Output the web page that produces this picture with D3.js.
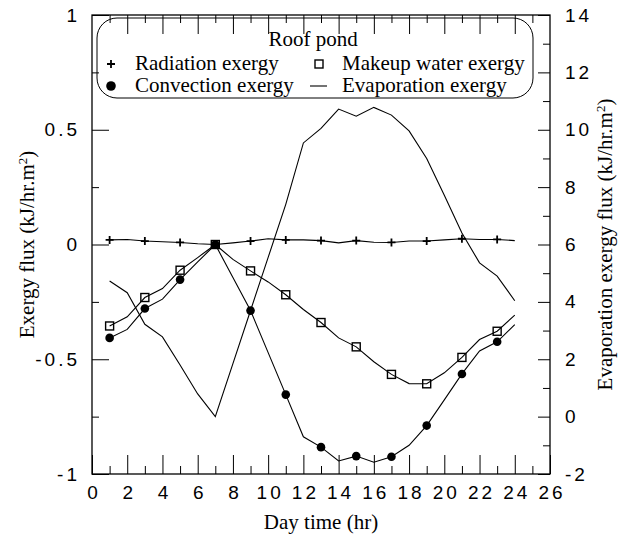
<!DOCTYPE html>
<html lang="en">
<head>
    <meta charset="UTF-8">
    <title>Roof pond exergy</title>
    <script src="https://d3js.org/d3.v7.min.js"></script>
    <style>
        body{
            margin: 0;
            background: white;
        }
        .tick text{
            font-family: "Liberation Sans", Arial, sans-serif;
            font-size: 19px;
            letter-spacing: 3px;
            fill: black;
        }
        .tick line{
            stroke: black;
            stroke-width: 1;
        }
        .title{
            font-family: "Liberation Serif", "Times New Roman", serif;
            font-size: 21px;
            fill: black;
        }
    </style>
</head>
<body>
<svg width="619" height="538"></svg>
<script>

    // data (hour of day)
    let hours = [1,2,3,4,5,6,7,8,9,10,11,12,13,14,15,16,17,18,19,20,21,22,23,24];
    let radiation = [0.020,0.022,0.015,0.012,0.009,0.003,0,0.007,0.015,0.025,0.020,0.020,
        0.017,0.007,0.017,0.010,0.009,0.015,0.015,0.020,0.025,0.022,0.022,0.017];
    let makeup = [-0.355,-0.315,-0.231,-0.192,-0.112,-0.057,0,-0.065,-0.115,-0.163,-0.219,-0.283,
        -0.340,-0.407,-0.446,-0.511,-0.566,-0.606,-0.607,-0.559,-0.492,-0.414,-0.378,-0.308];
    let convection = [-0.407,-0.370,-0.279,-0.238,-0.153,-0.076,0,-0.144,-0.288,-0.471,-0.654,-0.838,
        -0.883,-0.943,-0.922,-0.949,-0.925,-0.875,-0.789,-0.677,-0.564,-0.464,-0.424,-0.349];
    let evaporation = [4.73,4.32,3.22,2.78,1.80,0.79,0.0,1.85,3.70,5.55,7.40,9.54,
        10.05,10.72,10.47,10.78,10.51,9.96,9.00,7.72,6.40,5.36,4.90,4.04];

    let xTicks = [0,2,4,6,8,10,12,14,16,18,20,22,24,26];
    let leftTicks = [-1,-0.5,0,0.5,1];
    let rightTicks = [-2,0,2,4,6,8,10,12,14];

    let svg = d3.select('svg');
    let box = {left:92, right:550, top:15, bottom:474};

    // scales
    let xScale = d3.scaleLinear().domain([0,26]).range([box.left, box.right]);
    let yLeft = d3.scaleLinear().domain([-1,1]).range([box.bottom, box.top]);
    let yRight = d3.scaleLinear().domain([-2,14]).range([box.bottom, box.top]);

    let xMinor = d3.range(1,26,2);
    let leftMinor = [-0.75,-0.25,0.25,0.75];
    let rightMinor = d3.range(-1,14,2);

    function axisGroup(axis, tx, ty){
        let g = svg.append('g')
            .attr('transform','translate('+tx+','+ty+')')
            .call(axis);
        g.select('.domain').remove();
        return g;
    }

    // bottom + top ticks (inward)
    axisGroup(d3.axisBottom(xScale).tickValues(xTicks).tickSize(-19).tickPadding(12)
        .tickFormat(function(d){return String(d)}), 0, box.bottom)
        .selectAll('text').attr('dx','1.5px');
    axisGroup(d3.axisBottom(xScale).tickValues(xMinor).tickSize(-8).tickFormat(''), 0, box.bottom);
    axisGroup(d3.axisTop(xScale).tickValues(xTicks.slice(1,13)).tickSize(-19).tickFormat(''), 0, box.top);
    axisGroup(d3.axisTop(xScale).tickValues(xMinor).tickSize(-8).tickFormat(''), 0, box.top);

    // left axis
    axisGroup(d3.axisLeft(yLeft).tickValues(leftTicks).tickSize(-17).tickPadding(12)
        .tickFormat(function(d){return String(d)}), box.left, 0);
    axisGroup(d3.axisLeft(yLeft).tickValues(leftMinor).tickSize(-7).tickFormat(''), box.left, 0);

    // right axis
    axisGroup(d3.axisRight(yRight).tickValues(rightTicks).tickSize(-12).tickPadding(15)
        .tickFormat(function(d){return String(d)}), box.right, 0);
    axisGroup(d3.axisRight(yRight).tickValues(rightMinor).tickSize(-7).tickFormat(''), box.right, 0);

    // frame
    svg.append('rect')
        .attr('x', box.left).attr('y', box.top)
        .attr('width', box.right-box.left).attr('height', box.bottom-box.top)
        .attr('fill','none').attr('stroke','black').attr('stroke-width',1.3);

    // lines
    function addLine(values, yScale){
        let line = d3.line()
            .x(function(d,i){return xScale(hours[i])})
            .y(function(d){return yScale(d)});
        svg.append('path')
            .attr('d', line(values))
            .attr('fill','none')
            .attr('stroke','black')
            .attr('stroke-width',1.1);
    }
    addLine(radiation, yLeft);
    addLine(makeup, yLeft);
    addLine(convection, yLeft);
    addLine(evaporation, yRight);

    // markers at odd hours
    let odd = function(d,i){return hours[i] % 2 === 1};

    function plus(g, x, y){
        g.append('path')
            .attr('d','M'+(x-4)+','+y+'H'+(x+4)+'M'+x+','+(y-4)+'V'+(y+4))
            .attr('stroke','black').attr('stroke-width',1.8);
    }
    function square(g, x, y){
        g.append('rect')
            .attr('x',x-4).attr('y',y-4).attr('width',8).attr('height',8)
            .attr('fill','none').attr('stroke','black').attr('stroke-width',1.4);
    }
    function dot(g, x, y, r){
        g.append('circle').attr('cx',x).attr('cy',y).attr('r',r).attr('fill','black');
    }

    let marks = svg.append('g');
    makeup.forEach(function(d,i){ if(odd(d,i)) square(marks, xScale(hours[i]), yLeft(d)) });
    convection.forEach(function(d,i){ if(odd(d,i)) dot(marks, xScale(hours[i]), yLeft(d), 4.3) });
    radiation.forEach(function(d,i){ if(odd(d,i)) plus(marks, xScale(hours[i]), yLeft(d)) });

    // legend
    let legend = svg.append('g');
    legend.append('rect')
        .attr('x',97).attr('y',18).attr('width',436).attr('height',80)
        .attr('rx',20).attr('ry',20)
        .attr('fill','none').attr('stroke','black').attr('stroke-width',1);
    legend.append('text').attr('class','title').attr('x',313).attr('y',46)
        .attr('text-anchor','middle').text('Roof pond');
    plus(legend, 111, 64);
    dot(legend, 111, 86, 4.8);
    square(legend, 319, 64);
    legend.append('path').attr('d','M310,86H327').attr('stroke','black').attr('stroke-width',1.1);
    legend.append('text').attr('class','title').attr('x',135).attr('y',70).text('Radiation exergy');
    legend.append('text').attr('class','title').attr('x',135).attr('y',92).text('Convection exergy');
    legend.append('text').attr('class','title').attr('x',342).attr('y',70).text('Makeup water exergy');
    legend.append('text').attr('class','title').attr('x',342).attr('y',92).text('Evaporation exergy');

    // axis titles
    svg.append('text').attr('class','title')
        .attr('x', (box.left+box.right)/2).attr('y', 529)
        .attr('text-anchor','middle').text('Day time (hr)');

    function vTitle(x, main){
        let t = svg.append('text').attr('class','title')
            .attr('text-anchor','middle')
            .attr('transform','translate('+x+','+((box.top+box.bottom)/2)+') rotate(-90)');
        t.append('tspan').text(main + ' (kJ/hr.m');
        t.append('tspan').attr('dy',-7).attr('font-size','13px').text('2');
        t.append('tspan').attr('dy',7).text(')');
    }
    vTitle(34, 'Exergy flux');
    vTitle(612, 'Evaporation exergy flux');

</script>
</body>
</html>
